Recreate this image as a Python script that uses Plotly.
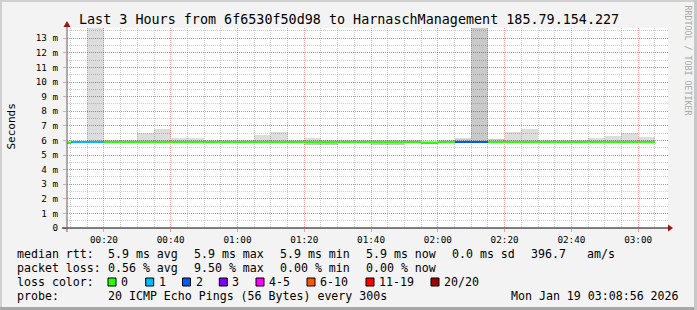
import plotly.graph_objects as go
import pandas as pd

# ---------------- data ----------------
day = "2026-01-19 "
interval_start = ["00:05", "00:10", "00:15", "00:20", "00:25", "00:30", "00:35", "00:40",
                  "00:45", "00:50", "00:55", "01:00", "01:05", "01:10", "01:15", "01:20",
                  "01:25", "01:30", "01:35", "01:40", "01:45", "01:50", "01:55", "02:00",
                  "02:05", "02:10", "02:15", "02:20", "02:25", "02:30", "02:35", "02:40",
                  "02:45", "02:50", "02:55", "03:00"]
median_ms = [5.85, 5.9, 5.9, 5.9, 5.9, 5.9, 5.9, 5.9,
             5.9, 5.9, 5.9, 5.9, 5.9, 5.9, 5.9, 5.9,
             5.9, 5.9, 5.9, 5.9, 5.9, 5.9, 5.83, 5.9,
             5.9, 5.9, 5.9, 5.9, 5.9, 5.9, 5.9, 5.9,
             5.9, 5.9, 5.9, 5.9]
ping_min = [5.85, 5.85, 5.85, 5.85, 5.85, 5.85, 5.85, 5.85,
            5.85, 5.85, 5.85, 5.85, 5.85, 5.85, 5.85, 5.7,
            5.7, 5.85, 5.85, 5.7, 5.7, 5.85, 5.8, 5.85,
            5.85, 5.85, 5.85, 5.85, 5.85, 5.85, 5.85, 5.85,
            5.85, 5.85, 5.85, 5.85]
ping_p90 = [5.95, 5.95, 6.0, 6.0, 6.05, 6.0, 6.0, 6.0,
            6.0, 6.0, 6.0, 6.0, 6.0, 6.0, 6.0, 6.0,
            6.0, 6.0, 6.0, 6.0, 6.0, 6.0, 5.95, 6.0,
            6.1, 20.0, 6.1, 6.0, 6.0, 6.0, 6.0, 6.0,
            6.0, 6.0, 6.0, 6.0]
ping_max = [5.95, 5.95, 20.0, 6.0, 6.05, 6.5, 6.8, 6.15,
            6.15, 6.05, 6.05, 6.05, 6.4, 6.6, 6.0, 6.15,
            6.05, 6.0, 6.0, 6.05, 6.05, 6.05, 5.95, 6.0,
            6.15, 20.0, 6.1, 6.55, 6.75, 6.05, 6.05, 6.05,
            6.15, 6.3, 6.5, 6.25]
loss_count = [0, 1, 1, 0, 0, 0, 0, 0,
              0, 0, 0, 0, 0, 0, 0, 0,
              0, 0, 0, 0, 0, 0, 0, 0,
              2, 2, 0, 0, 0, 0, 0, 0,
              0, 0, 0, 0]

y_tick_values = list(range(14))
y_tick_labels = ["0"] + [f"{v} m" for v in range(1, 14)]

loss_labels = ["0", "1", "2", "3", "4-5", "6-10", "11-19", "20/20"]
loss_upper = [0, 1, 2, 3, 5, 10, 19, 20]

title_text = "Last 3 Hours from 6f6530f50d98 to HarnaschManagement 185.79.154.227"
rtt_items = ["median rtt:", "5.9 ms avg", "5.9 ms max", "5.9 ms min", "5.9 ms now",
             "0.0 ms sd", "396.7", "am/s"]
loss_items = ["packet loss:", "0.56 % avg", "9.50 % max", "0.00 % min", "0.00 % now"]
probe_items = ["probe:", "20 ICMP Echo Pings (56 Bytes) every 300s", "Mon Jan 19 03:08:56 2026"]
time_start = "2026-01-19 00:08:56"
time_end = "2026-01-19 03:08:56"

# ---------------- style ----------------
loss_colors = ["#26ff00", "#00b8ff", "#0059ff", "#7e00ff", "#ff00ff", "#ff5500", "#ff0000", "#a10000"]
FONT = "DejaVu Sans Mono"
W, H = 697, 310
PL, PR, PT, PB = 67, 668, 28, 228


def px(x):
    return (x - PL) / (PR - PL)


def py(y):
    return (PB - y) / (PB - PT)


def color_for(n):
    for up, c in zip(loss_upper, loss_colors):
        if n <= up:
            return c
    return loss_colors[-1]


x = pd.to_datetime([day + t for t in interval_start])
STEP_MS = 300000
LINE_H = 0.14

fig = go.Figure()
fig.add_trace(go.Bar(x=x, y=[a - b for a, b in zip(ping_max, ping_min)], base=ping_min,
                     width=STEP_MS, offset=0, marker=dict(color="rgba(0,0,0,0.135)", line=dict(width=0)),
                     hoverinfo="skip"))
fig.add_trace(go.Bar(x=x, y=[a - b for a, b in zip(ping_p90, ping_min)], base=ping_min,
                     width=STEP_MS, offset=0, marker=dict(color="rgba(0,0,0,0.09)", line=dict(width=0)),
                     hoverinfo="skip"))
fig.add_trace(go.Bar(x=x, y=[LINE_H] * len(x), base=[m - LINE_H / 2 for m in median_ms],
                     width=STEP_MS, offset=0,
                     marker=dict(color=[color_for(n) for n in loss_count], line=dict(width=0))))

grid_major = "rgba(255,0,0,0.35)"
grid_minor = "rgba(110,110,110,0.35)"

fig.update_layout(
    width=W, height=H, barmode="overlay", bargap=0, showlegend=False,
    margin=dict(l=PL, r=W - PR, t=PT, b=H - PB, pad=0),
    paper_bgcolor="#f3f3f3", plot_bgcolor="#ffffff",
    font=dict(family=FONT, color="#000000"),
    xaxis=dict(type="date", range=[time_start, time_end], tick0="2026-01-19 00:00:00",
               dtick=1200000, tickformat="%H:%M", showgrid=True, gridcolor=grid_major,
               griddash="1px,1px", gridwidth=1, zeroline=False, showline=False,
               ticks="outside", ticklen=3, tickcolor=grid_major,
               tickfont=dict(family=FONT, size=9.3, color="#000"),
               minor=dict(dtick=300000, tick0="2026-01-19 00:00:00", showgrid=True,
                          gridcolor=grid_minor, griddash="1px,1px", gridwidth=1)),
    yaxis=dict(range=[0, 13.7], tickvals=y_tick_values, ticktext=y_tick_labels,
               showgrid=True, gridcolor=grid_major, griddash="1px,1px", gridwidth=1,
               zeroline=False, showline=False, ticks="outside", ticklen=3, tickcolor=grid_major,
               ticklabelstandoff=3,
               tickfont=dict(family=FONT, size=9.3, color="#000"),
               minor=dict(dtick=0.5, tick0=0, showgrid=True, gridcolor=grid_minor,
                          griddash="1px,1px", gridwidth=1)),
)

shapes = []
# frame around the canvas
shapes.append(dict(type="line", xref="paper", yref="paper", x0=px(0), x1=px(W), y0=py(1), y1=py(1),
                   line=dict(color="#d0d0d0", width=2)))
shapes.append(dict(type="line", xref="paper", yref="paper", x0=px(1), x1=px(1), y0=py(0), y1=py(H),
                   line=dict(color="#d0d0d0", width=2)))
shapes.append(dict(type="line", xref="paper", yref="paper", x0=px(0), x1=px(W), y0=py(H - 1.5), y1=py(H - 1.5),
                   line=dict(color="#a8a8a8", width=3)))
shapes.append(dict(type="line", xref="paper", yref="paper", x0=px(W - 1.5), x1=px(W - 1.5), y0=py(0), y1=py(H),
                   line=dict(color="#c8c8c8", width=3)))
# axes with arrows
shapes.append(dict(type="line", xref="paper", yref="paper", x0=px(62), x1=px(669), y0=0, y1=0,
                   line=dict(color="#000000", width=1)))
shapes.append(dict(type="line", xref="paper", yref="paper", x0=0, x1=0, y0=py(232), y1=py(24),
                   line=dict(color="#606060", width=1)))
shapes.append(dict(type="path", xref="paper", yref="paper",
                   path=f"M {px(668)} {py(224.5)} L {px(673)} {py(228)} L {px(668)} {py(231.5)} Z",
                   fillcolor="#a01010", line=dict(width=0)))
shapes.append(dict(type="path", xref="paper", yref="paper",
                   path=f"M {px(63.5)} {py(27)} L {px(67)} {py(21)} L {px(70.5)} {py(27)} Z",
                   fillcolor="#a01010", line=dict(width=0)))

annotations = []


def text(s, x, y, size=11.6, anchor="left", color="#000", angle=0):
    annotations.append(dict(text=s, x=px(x), y=py(y), xref="paper", yref="paper",
                            xanchor=anchor, yanchor="middle", showarrow=False, textangle=angle,
                            borderpad=0, font=dict(family=FONT, size=size, color=color)))


text(title_text, 348.5, 19.5, size=13.4, anchor="center")
text("Seconds", 10.5, 127, size=11, anchor="center", angle=-90)
text("RRDTOOL / TOBI OETIKER", 687.5, 60, size=8.3, anchor="center", color="#a8a8a8", angle=90)

rtt_x = [16, 107, 193, 279, 365, 451, 530, 586]
for s, xx in zip(rtt_items, rtt_x):
    text(s, xx, 254)
loss_x = [16, 107, 193, 279, 365]
for s, xx in zip(loss_items, loss_x):
    text(s, xx, 268)
text("loss color:", 16, 282)
box_x = [108, 145.7, 182.5, 219.3, 256, 307, 366, 431]
for lab, c, bx in zip(loss_labels, loss_colors, box_x):
    shapes.append(dict(type="rect", xref="paper", yref="paper", x0=px(bx), x1=px(bx + 8),
                       y0=py(286), y1=py(278), fillcolor=c, line=dict(color="#000", width=1)))
    text(lab, bx + 12, 282)
text(probe_items[0], 16, 296)
text(probe_items[1], 107, 296)
text(probe_items[2], 680, 296, anchor="right")

fig.update_layout(shapes=shapes, annotations=annotations)
fig.write_html("out.html")
